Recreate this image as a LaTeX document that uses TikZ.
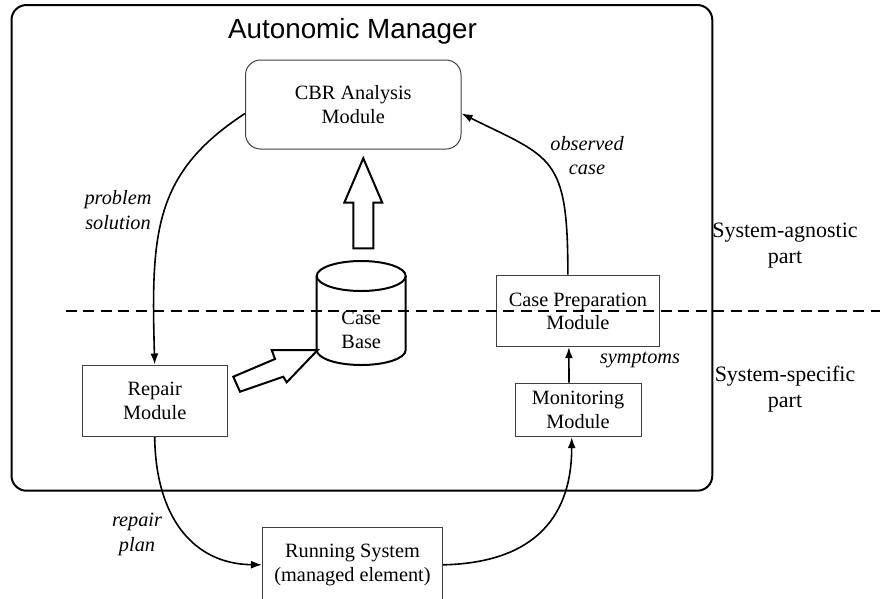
\documentclass[tikz,border=0pt]{standalone}
\usepackage{fontspec}
\setmainfont{Liberation Serif}
\newfontfamily\titlefont{Liberation Sans}
\usetikzlibrary{arrows.meta}
\tikzset{
  txt/.style={font=\fontsize{20.3}{23.5}\selectfont, align=center, inner sep=0pt},
  lbl/.style={font=\itshape\fontsize{20.3}{24.5}\selectfont, align=center, inner sep=0pt},
  side/.style={font=\fontsize{22}{26}\selectfont, align=center, inner sep=0pt},
  modbox/.style={draw=black!75, line width=1pt, align=center, inner sep=0pt,
                 font=\fontsize{20.3}{23.5}\selectfont},
  conn/.style={draw=black, line width=1.6pt, -{Latex[length=11pt,width=8pt]}},
  blockarrow/.style={draw=black, line width=2pt, fill=white, line join=miter}
}
\begin{document}
\begin{tikzpicture}[x=1pt,y=1pt]
\useasboundingbox (0,0) rectangle (880,-598);
\clip (0,0) rectangle (880,-598);
\fill[white] (0,0) rectangle (880,-598);

% outer autonomic manager box
\node[draw=black, line width=2pt, rounded corners=15pt, minimum width=700.8pt,
      minimum height=485.7pt, inner sep=0pt] (am) at (361.9,-247.85) {};
\node[font=\titlefont\fontsize{27.8}{31}\selectfont, inner sep=0pt] (title) at (352.5,-31.5) {Autonomic Manager};

% case base cylinder
\draw[line width=2pt, fill=white] (316.7,-276) -- (316.7,-350) arc[start angle=180, end angle=360, x radius=44.5pt, y radius=15pt] -- (405.7,-276);
\draw[line width=2pt] (361.2,-276) ellipse [x radius=44.5pt, y radius=15pt];

% modules
\node[modbox, rounded corners=15pt, minimum width=215.5pt, minimum height=89pt] (cbr) at (353.25,-104.5) {CBR Analysis\\Module};
\node[modbox, minimum width=162.3pt, minimum height=71.7pt] (cp) at (577.85,-310.85) {};
\node[modbox, minimum width=126pt, minimum height=53.7pt] (mon) at (578,-409.85) {Monitoring\\Module};
\node[modbox, minimum width=144.6pt, minimum height=71.7pt] (rep) at (154.7,-400.85) {Repair\\Module};
\node[modbox, minimum width=180pt, minimum height=75pt] (run) at (352.5,-564.8) {Running System\\(managed element)};

% dashed separator (runs through the cylinder and the case preparation box)
\coordinate (dl) at (65.6,-311);
\coordinate (dr) at (880,-311);
\draw[line width=2pt, dash pattern=on 11pt off 6.5pt] (dl) -- (dr);

\node[txt] (cb) at (361.2,-330) {Case\\Base};
\node[txt] (cpt) at (577.85,-311.5) {Case Preparation\\Module};

% big up arrow (case base -> CBR)
\draw[blockarrow] (363.3,-158.3) -- (382.3,-202.7) -- (373.3,-202.7) -- (373.3,-248.3)
   -- (353.3,-248.3) -- (353.3,-202.7) -- (344.3,-202.7) -- cycle;

% tilted arrow (repair -> case base)
\draw[blockarrow] (233.3,-376.7) -- (275,-359) -- (271.7,-350) -- (317.7,-350)
   -- (286.7,-382.3) -- (283.3,-376.7) -- (240,-391.7) -- cycle;

% connectors
\draw[conn] ([yshift=-9pt]cbr.west) .. controls (153.3,-173.3) and (151,-233) .. (rep.north);
\draw[conn] ([xshift=-10pt]cp.north) .. controls (568,-155) and (552,-158.4) .. ([yshift=-9pt]cbr.east);
\draw[conn] ([xshift=-9pt]mon.north) -- ([xshift=-9pt]cp.south);
\draw[conn] (rep.south) .. controls (155.7,-517) and (193,-564) .. (run.west);
\draw[conn] (run.east) .. controls (527.7,-563) and (571.7,-523) .. ([xshift=-6.3pt]mon.south);

% labels
\node[lbl] (l1) at (118,-210) {problem\\solution};
\node[lbl] (l2) at (587,-155.5) {observed\\case};
\node[lbl] (l3) at (640,-360) {symptoms};
\node[lbl] (l4) at (137,-534.5) {repair\\plan};
\node[side] (s1) at (785,-245.3) {System-agnostic\\part};
\node[side] (s2) at (785,-389.2) {System-specific\\part};
\end{tikzpicture}
\end{document}
